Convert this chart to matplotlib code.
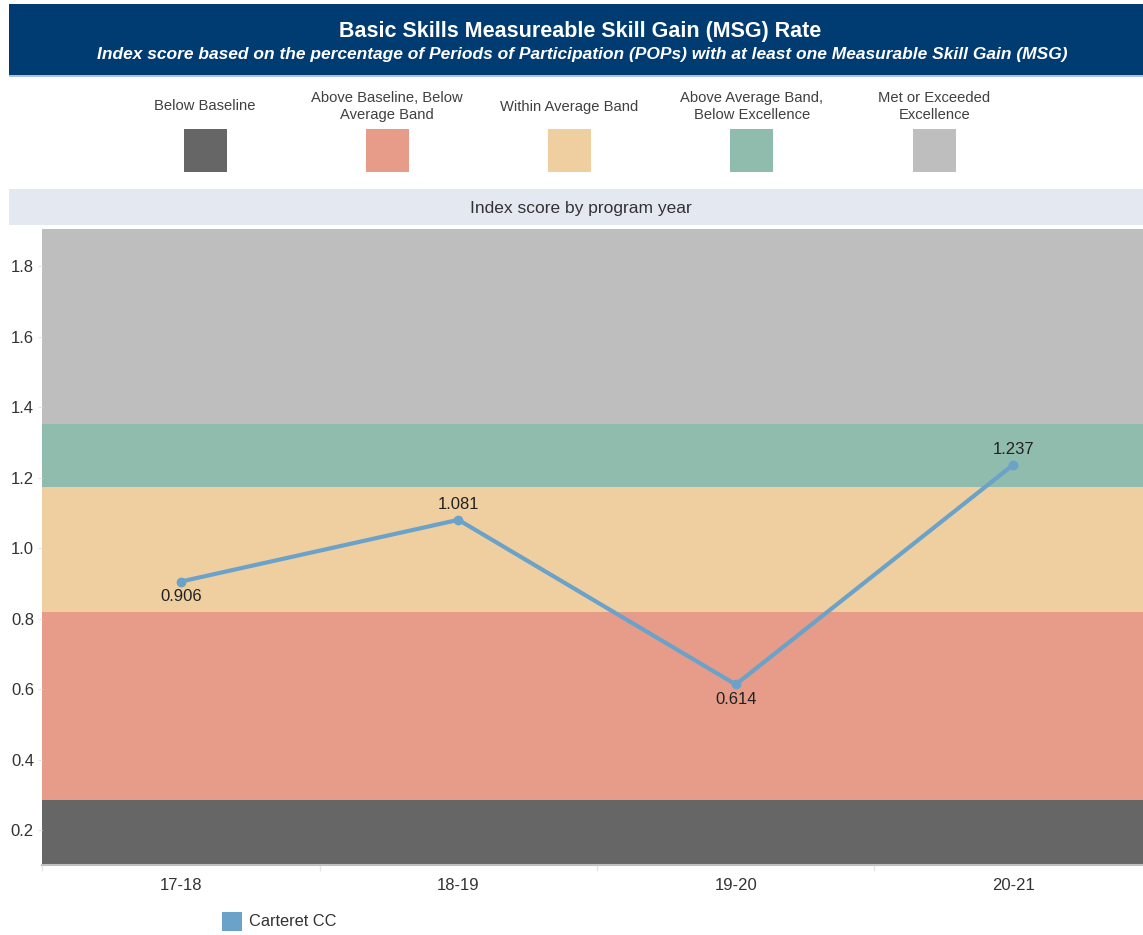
import numpy as np
import matplotlib
matplotlib.use('Agg')
import matplotlib.pyplot as plt
from matplotlib.patches import Rectangle

plt.rcParams['font.family'] = ['Liberation Sans', 'DejaVu Sans']

# program years and index scores
years = ['17-18', '18-19', '19-20', '20-21']
scores = [0.906, 1.081, 0.614, 1.237]
series_name = 'Carteret CC'

# performance bands (upper edges) and their labels
band_edges = [0.285, 0.819, 1.175, 1.352, 1.905]
band_labels = ['Below Baseline',
               'Above Baseline, Below\nAverage Band',
               'Within Average Band',
               'Above Average Band,\nBelow Excellence',
               'Met or Exceeded\nExcellence']
band_colors = ['#666666', '#e69c89', '#efcf9f', '#8fbcac', '#bebebe']

title = 'Basic Skills Measureable Skill Gain (MSG) Rate'
subtitle = ('Index score based on the percentage of Periods of Participation (POPs) '
            'with at least one Measurable Skill Gain (MSG)')
panel_title = 'Index score by program year'

W, H = 1143, 935
ymin = 0.102
line_color = '#6ba2c9'
text_color = '#333333'


def fx(x):
    return x / W


def fy(y):
    return 1 - y / H


def box(fig, x0, y0, x1, y1, color, z=0):
    # rectangle in pixel coords measured from the top-left corner
    fig.patches.append(Rectangle((fx(x0), fy(y1)), fx(x1) - fx(x0), fy(y0) - fy(y1),
                                 transform=fig.transFigure, facecolor=color,
                                 edgecolor='none', zorder=z))


fig = plt.figure(figsize=(W / 100, H / 100), dpi=100)

# header
box(fig, 9, 4, W, 75, '#003b71')
box(fig, 9, 75, W, 77, '#a9c3df')
fig.text(fx(580), fy(31), title, color='white', fontsize=15.5, fontweight='bold',
         ha='center', va='center')
fig.text(fx(582), fy(54), subtitle, color='white', fontsize=12.5, fontweight='bold',
         fontstyle='italic', ha='center', va='center')

# band key
for i, (lab, col) in enumerate(zip(band_labels, band_colors)):
    cx = 205 + 182.3 * i
    box(fig, cx - 21.5, 129, cx + 21.5, 172, col)
    fig.text(fx(cx), fy(106.5), lab, color='#404040', fontsize=10.6, ha='center',
             va='center', linespacing=1.35)

# panel heading
box(fig, 9, 189, W, 225, '#e4e8f1')
fig.text(fx(581), fy(208.5), panel_title, color=text_color, fontsize=12.5,
         ha='center', va='center')

ax = fig.add_axes([fx(42.3), fy(865), fx(W) - fx(42.3), fy(229.3) - fy(865)])
x = np.arange(len(years))

lower = [ymin] + band_edges[:-1]
for lo, hi, col in zip(lower, band_edges, band_colors):
    ax.axhspan(lo, hi, color=col, lw=0, zorder=0)

ax.plot(x, scores, color=line_color, lw=3, marker='o', ms=6, zorder=3,
        solid_capstyle='round')

for i, v in enumerate(scores):
    nb = [scores[j] for j in (i - 1, i + 1) if 0 <= j < len(scores)]
    above = v >= np.mean(nb)
    ax.annotate(f'{v:.3f}', (i, v), xytext=(0, 11 if above else -11),
                textcoords='offset points', ha='center', va='center',
                fontsize=12, color='#222222', zorder=4)

ax.set_xlim(-0.5, 3.468)
ax.set_ylim(ymin, 1.905)
ax.set_xticks(x)
ax.set_xticklabels(years)
ax.set_xticks(np.arange(-0.5, 3.5, 1.0), minor=True)
ax.set_yticks(np.arange(0.2, 1.81, 0.2))
ax.set_yticklabels([f'{t:.1f}' for t in np.arange(0.2, 1.81, 0.2)])

ax.tick_params(axis='x', which='major', length=0, pad=9, labelsize=12,
               labelcolor=text_color)
ax.tick_params(axis='x', which='minor', length=4, color='#e6e6e6', width=1)
ax.tick_params(axis='y', length=3, color='#e6e6e6', pad=3, labelsize=12,
               labelcolor=text_color)

for s in ['top', 'right', 'left']:
    ax.spines[s].set_visible(False)
ax.spines['bottom'].set_color('#c0c0c0')
ax.spines['bottom'].set_linewidth(1.5)

# series key
box(fig, 222, 912, 242, 931, line_color)
fig.text(fx(249), fy(922), series_name, color=text_color, fontsize=11.8,
         ha='left', va='center')

fig.savefig('out.png', dpi=100)
